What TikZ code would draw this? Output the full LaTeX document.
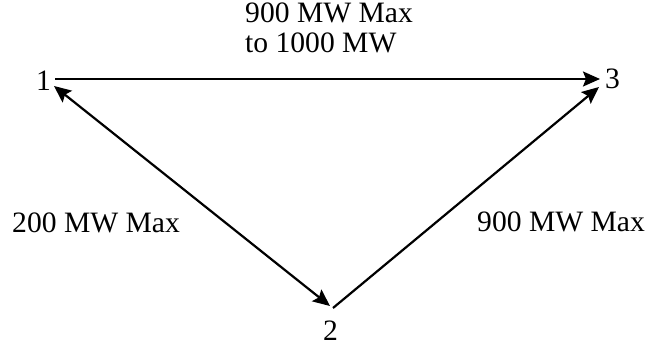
\documentclass[tikz,border=0pt]{standalone}
\usepackage{fontspec}
\setmainfont{Liberation Serif}
\usetikzlibrary{arrows.meta}
\begin{document}
\begin{tikzpicture}[x=1pt,y=-1pt,
  lbl/.style={anchor=base west,inner sep=0pt,font=\fontsize{29.6}{34}\selectfont},
  link/.style={line width=2.2pt},
  tip/.style={-{Stealth[length=17pt,width=15pt,inset=3pt]}},
  tips/.style={{Stealth[length=17pt,width=15pt,inset=3pt]}-{Stealth[length=17pt,width=15pt,inset=3pt]}}]
\useasboundingbox (0,0) rectangle (649,347);
\node[lbl] (n1) at (36,91) {1};
\node[lbl] (n3) at (605,89) {3};
\node[lbl] (n2) at (323,341) {2};
\node[lbl] (t1) at (245,23) {900 MW Max};
\node[lbl] (t2) at (245,53) {to 1000 MW};
\node[lbl] (l12) at (12,233) {200 MW Max};
\node[lbl] (l23) at (477,232) {900 MW Max};
\coordinate (a1) at (55,79);
\coordinate (a3) at (600,79);
\coordinate (b1) at (54,86);
\coordinate (b2) at (330,306);
\coordinate (c2) at (333,308);
\coordinate (c3) at (599,87);
\draw[link,tip] (a1) -- (a3);
\draw[link,tips] (b1) -- (b2);
\draw[link,tip] (c2) -- (c3);
\end{tikzpicture}
\end{document}
